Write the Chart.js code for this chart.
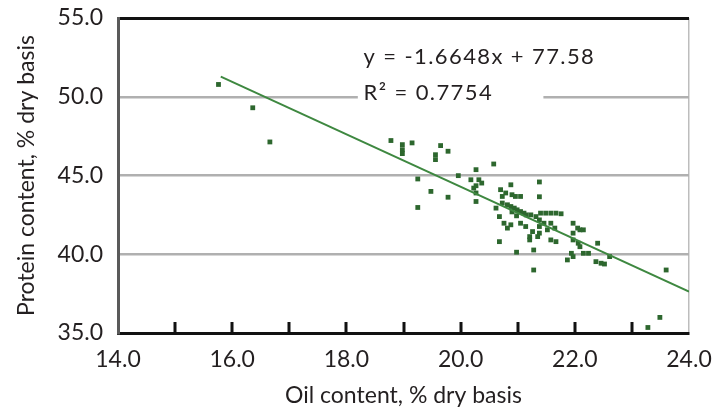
<!DOCTYPE html>
<html><head><meta charset="utf-8">
<script src="https://cdn.jsdelivr.net/npm/chart.js@4/dist/chart.umd.min.js"></script>
<style>html,body{margin:0;padding:0;background:#fff}canvas{display:block}</style>
</head><body>
<canvas id="c" width="715" height="410"></canvas>
<script>
// Oil content (% dry basis) for each sample
const oilContent = [
 15.76,16.36,16.66,18.78,18.98,18.98,18.98,19.15,19.65,19.78,19.56,19.56,20.58,19.25,19.48,19.78,19.25,19.96,20.27,20.18,
 20.32,20.37,20.27,20.27,20.27,20.23,21.38,21.38,20.88,20.70,20.73,20.79,20.90,20.96,21.05,20.62,20.68,20.73,20.82,20.88,
 20.94,20.99,21.05,21.11,20.90,20.98,21.15,21.23,21.32,21.40,21.49,21.58,21.67,21.76,21.38,21.46,21.58,21.38,21.52,21.65,
 21.38,21.26,21.35,21.21,21.21,20.76,20.88,20.82,21.05,21.14,20.68,20.98,21.28,21.28,21.58,21.67,21.97,22.05,22.09,22.15,
 21.97,21.97,22.06,22.09,21.94,21.97,21.87,22.15,22.24,22.40,22.37,22.46,22.52,22.61,23.60,23.49,23.28
];
// Protein content (% dry basis) for each sample
const proteinContent = [
 50.78,49.30,47.13,47.22,46.96,46.64,46.39,47.07,46.90,46.54,46.32,46.01,45.73,44.78,43.99,43.62,42.97,44.99,45.37,44.73,
 44.73,44.52,44.35,43.89,43.35,44.20,44.59,43.65,44.41,44.10,43.67,43.89,43.78,43.67,43.67,42.93,42.39,43.25,43.14,43.03,
 42.93,42.82,42.71,42.61,42.69,42.44,42.50,42.50,42.39,42.61,42.61,42.61,42.61,42.57,42.18,41.97,41.97,41.76,41.55,41.66,
 41.34,41.44,41.12,41.12,40.91,41.97,41.87,41.66,41.97,41.76,40.80,40.13,40.27,39.00,40.91,40.80,41.97,41.66,41.55,41.55,
 41.34,40.91,40.70,40.48,40.06,39.85,39.64,40.06,40.06,40.70,39.53,39.43,39.38,39.85,39.00,35.99,35.35
];
// Linear fit shown on the chart
const trendSlope = -1.6648;
const trendIntercept = 77.58;
const trendRange = [15.8, 24.0];
const equationLines = ['y = -1.6648x + 77.58', 'R\u00B2 = 0.7754'];
// Axis ticks
const xTickValues = [14,15,16,17,18,19,20,21,22,23,24];
const xTickLabels = ['14.0','','16.0','','18.0','','20.0','','22.0','','24.0'];
const yTickValues = [35,40,45,50,55];
const yTickLabels = ['35.0','40.0','45.0','50.0','55.0'];
const xTitle = 'Oil content, % dry basis';
const yTitle = 'Protein content, % dry basis';

const FONT = 'Lato, "Open Sans", sans-serif';
const TXT = '#231f20';

const scatterData = oilContent.map((x, i) => ({x: x, y: proteinContent[i]}));
const trendData = trendRange.map(x => ({x: x, y: trendIntercept + trendSlope * x}));

const overlay = {
  id: 'overlay',
  afterDraw(chart) {
    const ctx = chart.ctx;
    const xs = chart.scales.x, ys = chart.scales.y;
    const ca = chart.chartArea;
    ctx.save();
    // equation box
    const left = xs.getPixelForValue(18.2);
    const right = xs.getPixelForValue(21.45);
    const top = ys.getPixelForValue(53.4);
    const bottom = ys.getPixelForValue(49.6);
    ctx.fillStyle = '#fff';
    ctx.fillRect(left, top, right - left, bottom - top);
    ctx.fillStyle = TXT;
    ctx.font = '22px ' + FONT;
    ctx.textAlign = 'left';
    ctx.textBaseline = 'middle';
    ctx.letterSpacing = '1.4px';
    const tx = xs.getPixelForValue(18.3);
    ctx.fillText(equationLines[0], tx, ys.getPixelForValue(52.5));
    ctx.fillText(equationLines[1], tx, ys.getPixelForValue(50.25));
    ctx.letterSpacing = '0px';
    // inward tick marks on the x axis
    ctx.fillStyle = '#111111';
    for (let i = 1; i < xTickValues.length - 1; i++) {
      const px = Math.round(xs.getPixelForValue(xTickValues[i]));
      ctx.fillRect(px - 1.5, ca.bottom - 11, 3, 11);
    }
    ctx.restore();
  }
};

new Chart(document.getElementById('c'), {
  type: 'scatter',
  data: {
    datasets: [
      {
        label: 'Samples',
        data: scatterData,
        pointStyle: 'rect',
        pointRadius: 3.4,
        pointBorderWidth: 0,
        backgroundColor: '#2d672e',
        borderColor: '#2d672e',
        order: 2
      },
      {
        label: 'Linear fit',
        type: 'line',
        data: trendData,
        borderColor: '#3e8840',
        borderWidth: 2,
        pointRadius: 0,
        fill: false,
        order: 1
      }
    ]
  },
  options: {
    responsive: false,
    animation: false,
    layout: {padding: {top: 18, right: 26, left: 0, bottom: 0}},
    plugins: {legend: {display: false}, tooltip: {enabled: false}},
    scales: {
      x: {
        type: 'linear', min: 14, max: 24,
        afterBuildTicks: s => { s.ticks = xTickValues.map(v => ({value: v})); },
        afterFit: s => { s.height = 77; s.paddingLeft = 0; s.paddingRight = 0; },
        ticks: {
          autoSkip: false, maxRotation: 0, padding: 13,
          color: TXT, font: {family: FONT, size: 23},
          callback: (v, i) => xTickLabels[i]
        },
        grid: {
          drawTicks: false,
          color: c => (c.tick && c.tick.value === 24) ? '#bdbdbd' : 'rgba(0,0,0,0)',
          lineWidth: 1.5
        },
        border: {color: '#111', width: 3},
        title: {display: true, text: xTitle, color: TXT, font: {family: FONT, size: 23}, padding: {top: 0, bottom: 1}}
      },
      y: {
        type: 'linear', min: 35, max: 55,
        afterBuildTicks: s => { s.ticks = yTickValues.map(v => ({value: v})); },
        afterFit: s => { s.width = 118; s.paddingTop = 0; s.paddingBottom = 0; },
        ticks: {
          padding: 15, color: TXT, font: {family: FONT, size: 23},
          callback: (v, i) => yTickLabels[i]
        },
        grid: {
          drawTicks: false,
          color: c => {
            const v = c.tick && c.tick.value;
            if (v === 55) return '#111';
            if (v === 35) return 'rgba(0,0,0,0)';
            return '#b0b0b0';
          },
          lineWidth: c => (c.tick && c.tick.value === 55) ? 3 : 2.5
        },
        border: {color: '#5a5a5a', width: 3},
        title: {display: true, text: yTitle, color: TXT, font: {family: FONT, size: 23}, padding: {top: 13, bottom: 0}}
      }
    }
  },
  plugins: [overlay]
});
</script>
</body></html>
